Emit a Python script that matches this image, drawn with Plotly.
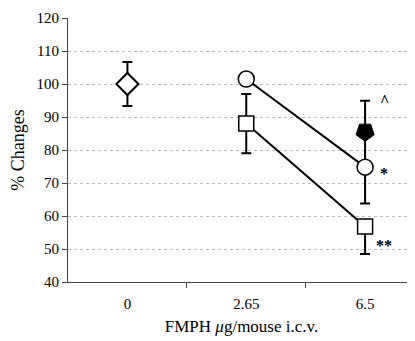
import plotly.graph_objects as go

categories = ["0", "2.65", "6.5"]
cat_pos = [0, 1, 2]

control_val = [100]
control_err = [6.7]

circle_val = [101.5, 74.8]
circle_err_up = [0, 0]
circle_err_down = [0, 11]

square_val = [88, 56.8]
square_err_up = [9, 0]
square_err_down = [9, 8.3]

filled_val = [85.5]
filled_err = [9.4]

sig_labels = ["^", "*", "**"]
sig_vals = [95, 73, 51]

fig = go.Figure()

fig.add_trace(go.Scatter(
    x=[cat_pos[0]], y=control_val, mode="markers",
    marker=dict(symbol="diamond", size=17, color="white", line=dict(color="black", width=2)),
    error_y=dict(type="data", array=control_err, color="black", thickness=2, width=5),
    showlegend=False))

fig.add_trace(go.Scatter(
    x=cat_pos[2:], y=filled_val, mode="markers",
    marker=dict(symbol="pentagon", angle=180, size=19, color="black", line=dict(color="black", width=1)),
    error_y=dict(type="data", array=filled_err, color="black", thickness=2, width=5),
    showlegend=False))

fig.add_trace(go.Scatter(
    x=cat_pos[1:], y=square_val, mode="lines+markers",
    line=dict(color="black", width=2),
    marker=dict(symbol="square", size=15, color="white", line=dict(color="black", width=1.5)),
    error_y=dict(type="data", symmetric=False, array=square_err_up, arrayminus=square_err_down,
                 color="black", thickness=2, width=5),
    showlegend=False))

fig.add_trace(go.Scatter(
    x=cat_pos[1:], y=circle_val, mode="lines+markers",
    line=dict(color="black", width=2),
    marker=dict(symbol="circle", size=16, color="white", line=dict(color="black", width=1.5)),
    error_y=dict(type="data", symmetric=False, array=circle_err_up, arrayminus=circle_err_down,
                 color="black", thickness=2, width=5),
    showlegend=False))

for lab, v in zip(sig_labels, sig_vals):
    fig.add_annotation(x=cat_pos[2], y=v, text="<b>" + lab + "</b>", showarrow=False, xshift=19,
                       font=dict(family="Liberation Serif", size=16, color="black"))

fig.update_layout(
    width=407, height=333,
    margin=dict(l=60, r=0, t=10, b=59),
    paper_bgcolor="white", plot_bgcolor="white",
    font=dict(family="Liberation Serif", size=15, color="black"),
    xaxis=dict(
        range=[-0.5, 2.42], tickvals=cat_pos, ticktext=categories, ticks="",
        showline=True, linecolor="#444", linewidth=1, showgrid=False, zeroline=False,
        minor=dict(tickvals=[0.5, 1.5], ticks="outside", ticklen=5, tickcolor="#444", showgrid=False),
        title=dict(text="FMPH <i>μ</i>g/mouse i.c.v.", font=dict(size=17), standoff=9),
        ticklabelstandoff=8,
    ),
    yaxis=dict(
        range=[40, 120], tickvals=list(range(40, 121, 10)), ticks="outside", ticklen=5,
        tickcolor="#444", showline=True, linecolor="#444", linewidth=1, showgrid=False,
        zeroline=False,
        minor=dict(tickvals=list(range(50, 111, 10)), showgrid=True, gridcolor="#bbb",
                   griddash="dot", gridwidth=1, ticks=""),
        title=dict(text="% Changes", font=dict(size=18), standoff=9),
    ),
)

fig.write_html("out.html")
